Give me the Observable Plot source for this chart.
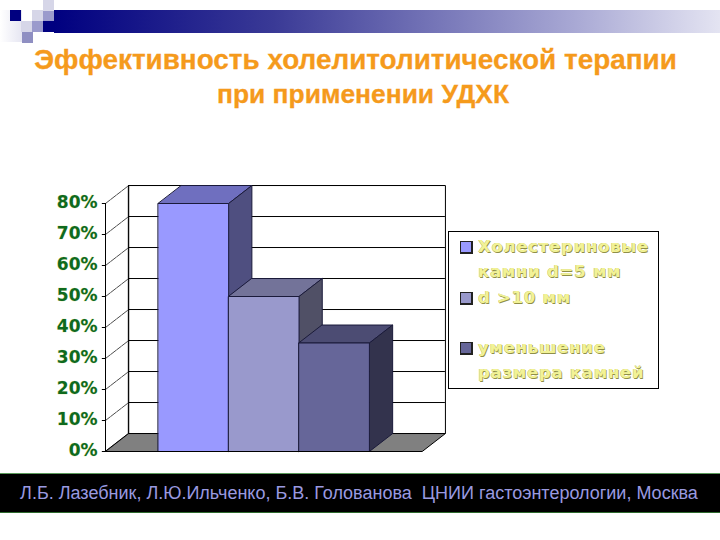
<!DOCTYPE html>
<html><head><meta charset="utf-8">
<script src="https://cdn.jsdelivr.net/npm/d3@7"></script>
<script src="https://cdn.jsdelivr.net/npm/@observablehq/plot@0.6"></script>
<style>
html,body{margin:0;padding:0;background:#fff;overflow:hidden}
#page{position:relative;width:720px;height:540px;font-family:"Liberation Sans",Arial,sans-serif}
#page svg{position:absolute;left:0;top:0}
.abs{position:absolute}
#title{left:0;top:43px;width:711px;text-align:center;color:#f59a1c;font-weight:bold;line-height:34px;-webkit-text-stroke:0.3px #f59a1c}
#legend{left:448px;top:231px;width:211px;height:158px;box-sizing:border-box;border:1px solid #000;background:#fff;z-index:2}
.li{position:absolute;left:29px;font-family:"DejaVu Sans";font-weight:bold;font-size:16.5px;line-height:25px;color:#f2f296;letter-spacing:.75px;white-space:nowrap;text-shadow:0.7px 0.7px 0 #8f8f48,-0.3px -0.3px 0 #b8b868}
.sw{position:absolute;left:11px;width:10px;height:10px;border:1px solid #222;border-right-width:2px;border-bottom-width:2px}
#foot{left:0;top:473px;width:718px;height:40px;box-sizing:border-box;background:#000;border-top:1px solid #5a9a5a;border-bottom:1px solid #2e6a2e;color:#9a9ae0;font-size:18px;line-height:38px;text-align:center;z-index:2}
#footbg{left:0;top:473px;width:720px;height:40px;box-sizing:border-box;background:#000;border-top:1px solid #5a9a5a;border-bottom:1px solid #2e6a2e;z-index:1}
</style></head><body><div id="page"></div>
<script>
const categories = ["Холестериновые камни d=5 мм", "d >10 мм", "уменьшение размера камней"];
const values = [0.80, 0.50, 0.35];
const frontColors = ["#9999ff", "#9999cc", "#666699"];
const topColors = ["#6f6fbf", "#737399", "#4c4c73"];
const sideColors = ["#4f4f80", "#505066", "#33334d"];
const ticks = [0, 0.1, 0.2, 0.3, 0.4, 0.5, 0.6, 0.7, 0.8];
const yTop = 0.8;
const legendLines = [["Холестериновые", "камни d=5 мм"], ["d >10 мм"], ["уменьшение", "размера камней"]];
const titleLines = ["Эффективность холелитолитической терапии", "при применении УДХК"];
const footerText = "Л.Б. Лазебник, Л.Ю.Ильченко, Б.В. Голованова  ЦНИИ гастоэнтерологии, Москва";

// depth of the oblique projection in data units
const dX = 0.33, dY = 0.058;
const xMin = -0.75, xMax = 3.75;

const polys = [];
function poly(id, color, pts){ pts.forEach(([x,y])=>polys.push({id,color,x,y})); }
poly("floor", "#808080", [[xMin,0],[xMax,0],[xMax+dX,dY],[xMin+dX,dY]]);
poly("wall", "#ffffff", [[xMin+dX,dY],[xMax+dX,dY],[xMax+dX,dY+yTop],[xMin+dX,dY+yTop]]);
const barPolys = [];
function bpoly(id, color, pts){ pts.forEach(([x,y])=>barPolys.push({id,color,x,y})); }
values.forEach((v,i)=>{
  bpoly("top"+i, topColors[i], [[i,v],[i+1,v],[i+1+dX,v+dY],[i+dX,v+dY]]);
  bpoly("side"+i, sideColors[i], [[i+1,0],[i+1+dX,dY],[i+1+dX,v+dY],[i+1,v]]);
  bpoly("front"+i, frontColors[i], [[i,0],[i+1,0],[i+1,v],[i,v]]);
});
const gridBack = ticks.slice(1).map(t=>({t}));
const sideTicks = ticks.flatMap(t=>[{id:t,x:xMin,y:t},{id:t,x:xMin+dX,y:t+dY}]);

const chart = Plot.plot({
  width:720, height:540, margin:0,
  x:{type:"linear",domain:[xMin,xMax],range:[105,421.7],axis:null},
  y:{type:"linear",domain:[0,yTop],range:[451,203],axis:null},
  color:{type:"identity"},
  style:{background:"transparent",overflow:"visible"},
  marks:[
    Plot.line(polys,{x:"x",y:"y",z:"id",fill:"color",stroke:"#000",strokeWidth:1,curve:"linear-closed"}),
    Plot.ruleY(gridBack,{y:d=>d.t+dY,x1:xMin+dX,x2:xMax+dX,stroke:"#000",strokeWidth:1}),
    Plot.ruleX([xMin+dX],{y1:dY,y2:yTop+dY,stroke:"#000",strokeWidth:1}),
    Plot.line(sideTicks,{x:"x",y:"y",z:"id",stroke:"#000",strokeWidth:0.7,strokeDasharray:"6 1"}),
    Plot.ruleX([xMin],{y1:0,y2:yTop,stroke:"#000",strokeWidth:1}),
    Plot.ruleY(ticks,{x1:xMin-0.045,x2:xMin,stroke:"#000",strokeWidth:1}),
    Plot.line(barPolys,{x:"x",y:"y",z:"id",fill:"color",stroke:"#1a1a3a",strokeWidth:1,curve:"linear-closed"}),
    Plot.ruleY([0],{x1:xMin,x2:xMax,stroke:"#000",strokeWidth:1.2}),
    Plot.text(ticks,{x:xMin,y:d=>d,dx:-8,dy:-1,text:d=>d3.format(".0%")(d),textAnchor:"end",fill:"#0f6a1e",stroke:"#dfe8a0",strokeWidth:0.5,paintOrder:"stroke",fontWeight:"bold",fontSize:17,fontFamily:"DejaVu Sans"})
  ]
});
const page = document.getElementById("page");
page.appendChild(chart);
function add(cls,id,html,css){const e=document.createElement("div");e.className=cls;if(id)e.id=id;if(html)e.innerHTML=html;if(css)e.style.cssText=css;page.appendChild(e);return e;}
// template decoration
add("abs",null,"","left:54px;top:10px;width:666px;height:23px;background:linear-gradient(90deg,#000080,#3a3a96 33%,#a8a8d4 78%,#e4e4f2)");
add("abs",null,"","left:0;top:10px;width:22px;height:32px;background:linear-gradient(90deg,#ffffff,#e6e6f2)");
[[10,10,"#000080"],[32,10,"#d6d6e8"],[43,10,"#9a9acc"],[43,21,"#000080"],[21,21,"#d6d6e8"],[32,21,"#9a9acc"],[22,32,"#8f8fc2"],[43,0,"#d6d6e8"]].forEach(([l,t,c])=>
  add("abs",null,"",`left:${l}px;top:${t}px;width:11px;height:11px;background:${c}`));
const tt=add("abs","title");
titleLines.forEach((s,i)=>{const d=document.createElement("div");d.textContent=s;d.style.fontSize=[27.9,26.4][i]+"px";d.style.paddingLeft=[0,15][i]+"px";tt.appendChild(d);});
const lg=add("abs","legend");
const tops=[2,53,103];
legendLines.forEach((ls,i)=>{
  const t=document.createElement("div");t.className="li";t.style.top=(tops[i])+"px";t.innerHTML=ls.map(s=>s.replace(">","&gt;")).join("<br>");t.title=categories[i];lg.appendChild(t);
  const s=document.createElement("div");s.className="sw";s.style.top=(tops[i]+7)+"px";s.style.background=frontColors[i];lg.appendChild(s);
});
add("abs","footbg");
add("abs","foot",footerText.replace("  "," &nbsp;"));
</script></body></html>
